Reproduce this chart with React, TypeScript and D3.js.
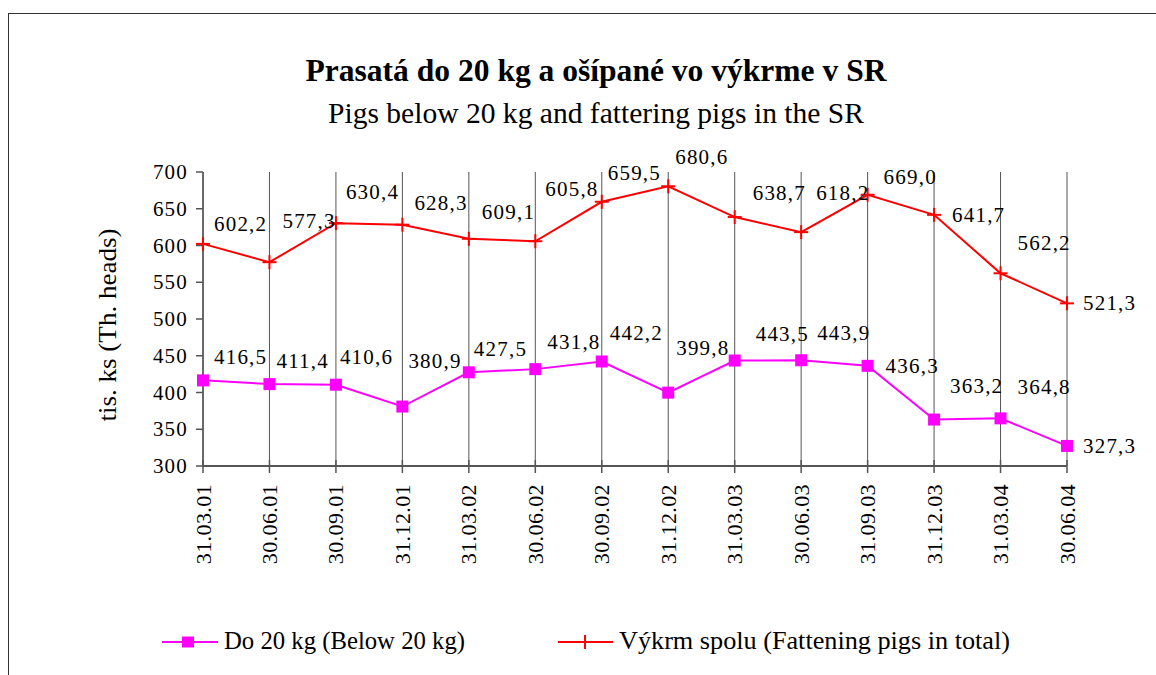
import React from 'react';
import * as d3 from 'd3';

const categories = ['31.03.01', '30.06.01', '30.09.01', '31.12.01', '31.03.02', '30.06.02', '30.09.02',
  '31.12.02', '31.03.03', '30.06.03', '31.09.03', '31.12.03', '31.03.04', '30.06.04'];
const fattening = [602.2, 577.3, 630.4, 628.3, 609.1, 605.8, 659.5, 680.6, 638.7, 618.2, 669.0, 641.7, 562.2, 521.3];
const below20 = [416.5, 411.4, 410.6, 380.9, 427.5, 431.8, 442.2, 399.8, 443.5, 443.9, 436.3, 363.2, 364.8, 327.3];
const yTicks = [300, 350, 400, 450, 500, 550, 600, 650, 700];

const title = 'Prasatá do 20 kg a ošípané vo výkrme v SR';
const subtitle = 'Pigs below 20 kg and fattering pigs in the SR';
const yTitle = 'tis. ks (Th. heads)';
const legendBelow = 'Do 20 kg (Below 20 kg)';
const legendFat = 'Výkrm spolu (Fattening pigs in total)';

// label nudges [dx, dy] from the point (hand-placed in the original)
const fatNudge = [[11, -20], [13, -41], [10, -31], [12, -22], [13, -27], [10, -52], [6, -29],
  [7, -29], [18, -24], [15, -39], [16, -18], [18, 0], [17, -30], [16, 0]];
const belowNudge = [[11, -23], [7, -23], [4, -28], [6, -46], [5, -23], [12, -27], [8, -28],
  [8, -45], [21, -27], [16, -27], [18, 0], [16, -34], [17, -31], [16, 0]];

const RED = '#ff0000';
const MAG = '#ff00ff';
const FONT = "'Liberation Serif', 'Times New Roman', Times, serif";
const AXIS = '#555';

const fmt = (v: number) => v.toFixed(1).replace('.', ',');

export default function App() {
  const x = d3.scalePoint<string>().domain(categories).range([203, 1067]);
  const y = d3.scaleLinear().domain([300, 700]).range([466, 172]);
  const line = d3.line<number>()
    .x((_, i) => x(categories[i]) as number)
    .y(d => y(d));

  const numStyle = { fontFamily: FONT, fontSize: 21, letterSpacing: '1.2px' };
  const catStyle = { fontFamily: FONT, fontSize: 22, letterSpacing: '0.4px' };

  const plus = (cx: number, cy: number, key?: any) => (
    <g key={key} stroke={RED} strokeWidth={2}>
      <line x1={cx - 7} x2={cx + 7} y1={cy} y2={cy} />
      <line x1={cx} x2={cx} y1={cy - 7} y2={cy + 7} />
    </g>
  );

  return (
    <svg width={1156} height={675} style={{ position: 'fixed', left: 0, top: 0, background: '#fff', fontFamily: FONT }}>
      <rect x={8.5} y={13.5} width={1200} height={700} fill="none" stroke="#333" strokeWidth={1} />

      <text x={596} y={81} textAnchor="middle" style={{ fontFamily: FONT, fontWeight: 'bold', fontSize: 31 }}
        textLength={581} lengthAdjust="spacingAndGlyphs">{title}</text>
      <text x={596} y={123} textAnchor="middle" style={{ fontFamily: FONT, fontSize: 29 }}
        textLength={536} lengthAdjust="spacingAndGlyphs">{subtitle}</text>

      {/* gridlines */}
      {categories.map(c => (
        <line key={'g' + c} x1={x(c)} x2={x(c)} y1={y(700)} y2={y(300)} stroke={AXIS} strokeWidth={1} />
      ))}

      {/* y axis */}
      <line x1={203} x2={203} y1={y(700)} y2={y(300)} stroke={AXIS} strokeWidth={1.5} />
      {yTicks.map(t => (
        <g key={'y' + t}>
          <line x1={196} x2={203} y1={y(t)} y2={y(t)} stroke={AXIS} strokeWidth={1.5} />
          <text x={188} y={y(t) + 7} textAnchor="end" style={numStyle}>{t}</text>
        </g>
      ))}
      <text transform={`translate(116, 325) rotate(-90)`} textAnchor="middle" style={{ fontFamily: FONT, fontSize: 25 }}
        textLength={193} lengthAdjust="spacingAndGlyphs">{yTitle}</text>

      {/* x axis */}
      <line x1={203} x2={1067} y1={y(300)} y2={y(300)} stroke={AXIS} strokeWidth={2} />
      {categories.map(c => (
        <g key={'x' + c}>
          <line x1={x(c)} x2={x(c)} y1={y(300) - 6} y2={y(300) + 7} stroke={AXIS} strokeWidth={1.5} />
          <text transform={`translate(${(x(c) as number) + 7.5}, 484) rotate(-90)`} textAnchor="end"
            style={catStyle}>{c}</text>
        </g>
      ))}

      {/* series */}
      <path d={line(fattening) as string} fill="none" stroke={RED} strokeWidth={2} />
      <path d={line(below20) as string} fill="none" stroke={MAG} strokeWidth={2} />
      {fattening.map((v, i) => plus(x(categories[i]) as number, y(v), 'p' + i))}
      {below20.map((v, i) => (
        <rect key={'s' + i} x={(x(categories[i]) as number) - 6} y={y(v) - 6} width={12} height={12} fill={MAG} />
      ))}

      {/* data labels */}
      {fattening.map((v, i) => (
        <text key={'lf' + i} x={(x(categories[i]) as number) + fatNudge[i][0]} y={y(v) + fatNudge[i][1] + 7}
          style={numStyle}>{fmt(v)}</text>
      ))}
      {below20.map((v, i) => (
        <text key={'lb' + i} x={(x(categories[i]) as number) + belowNudge[i][0]} y={y(v) + belowNudge[i][1] + 7}
          style={numStyle}>{fmt(v)}</text>
      ))}

      {/* legend */}
      <line x1={162} x2={218} y1={642} y2={642} stroke={MAG} strokeWidth={2} />
      <rect x={182} y={636.5} width={12} height={11} fill={MAG} />
      <text x={224} y={649} style={{ fontFamily: FONT, fontSize: 25 }} textLength={241} lengthAdjust="spacingAndGlyphs">{legendBelow}</text>
      <line x1={558} x2={613} y1={642} y2={642} stroke={RED} strokeWidth={2} />
      {plus(585, 642)}
      <text x={619} y={649} style={{ fontFamily: FONT, fontSize: 25 }} textLength={391} lengthAdjust="spacingAndGlyphs">{legendFat}</text>
    </svg>
  );
}
